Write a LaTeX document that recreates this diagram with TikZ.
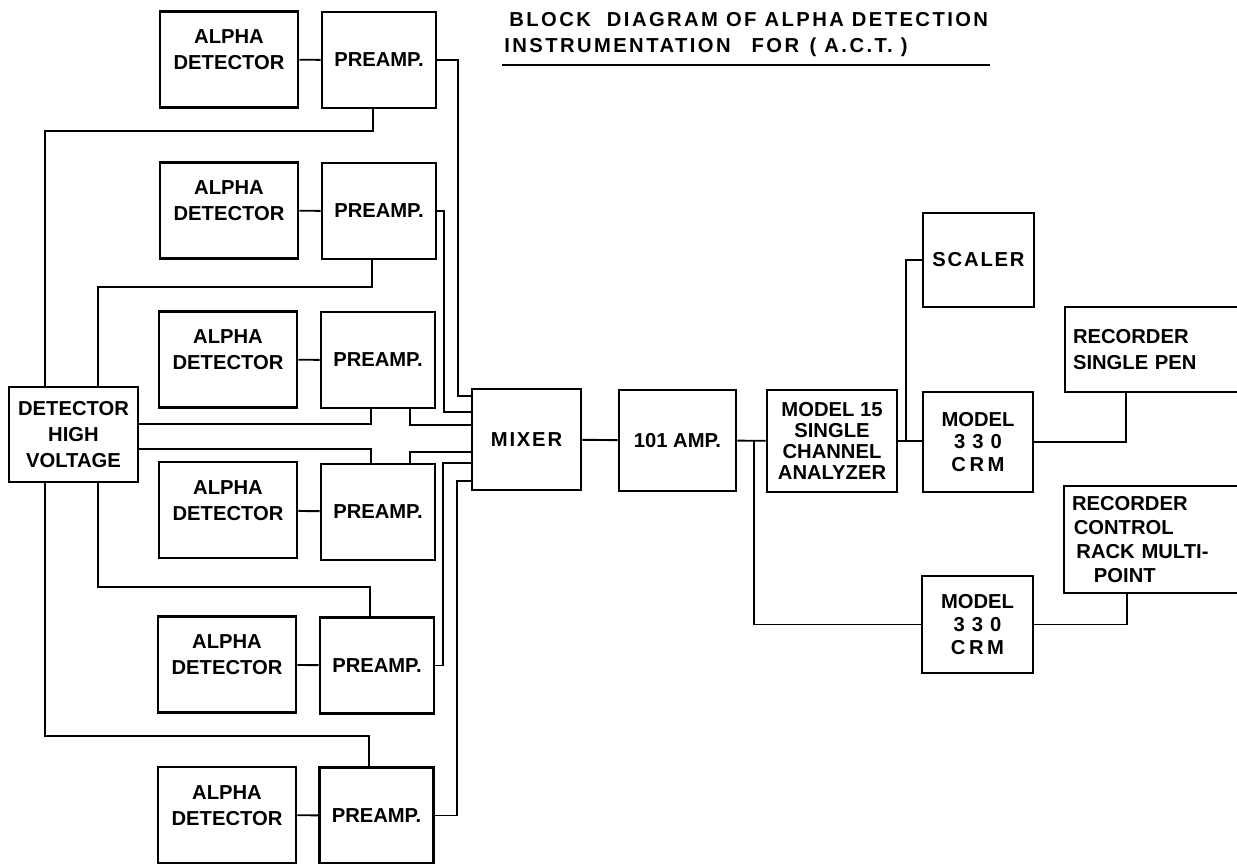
\documentclass[tikz,border=0pt]{standalone}
\usepackage{fontspec}
\setmainfont{Liberation Sans}

\begin{document}
\begin{tikzpicture}[x=0.02cm,y=-0.02cm,
  blk/.style={draw,line width=1.6pt,align=center,inner sep=1pt,
    font=\bfseries\fontsize{11.5}{14.8}\selectfont},
  det/.style={blk,minimum width=2.76cm,minimum height=1.92cm,text depth=11pt},
  pre/.style={blk,minimum width=2.28cm,minimum height=1.92cm},
  rec/.style={blk,align=left,inner xsep=0.16cm,text width=3.4cm},
  wide/.style={font=\bfseries\fontsize{11.5}{14.8}\selectfont\addfontfeature{LetterSpace=9}},
  ttl/.style={anchor=base west,inner sep=0pt,
    font=\bfseries\fontsize{11.5}{14}\selectfont\addfontfeature{LetterSpace=12}},
  wire/.style={line width=1.1pt}]
  \useasboundingbox (0,0) rectangle (1237,864);

  % title
  \node[ttl] (ttl1) at (509,27) {BLOCK\ \ DIAGRAM OF ALPHA DETECTION};
  \node[ttl] (ttl2) at (504,53) {INSTRUMENTATION\hspace{12pt}FOR\hspace{6pt}( A.C.T. )};
  \draw[line width=1.2pt] (502,65) -- (990,65);

  % detector / preamp pairs
  \node[det] (d1) at (229,59.5) {ALPHA\\DETECTOR};
  \node[pre] (p1) at (379,60) {PREAMP.};
  \node[det] (d2) at (229,210.5) {ALPHA\\DETECTOR};
  \node[pre] (p2) at (379,211) {PREAMP.};
  \node[det] (d3) at (228,359.5) {ALPHA\\DETECTOR};
  \node[pre] (p3) at (378,360) {PREAMP.};
  \node[det] (d4) at (228,510) {ALPHA\\DETECTOR};
  \node[pre] (p4) at (378,512) {PREAMP.};
  \node[det] (d5) at (227,664.5) {ALPHA\\DETECTOR};
  \node[pre] (p5) at (377,665.5) {PREAMP.};
  \node[det] (d6) at (227,815) {ALPHA\\DETECTOR};
  \node[pre] (p6) at (376.5,815.5) {PREAMP.};

  \node[blk,minimum width=2.58cm,minimum height=1.9cm] (hv) at (73.5,434.5) {DETECTOR\\HIGH\\VOLTAGE};
  \node[blk,wide,minimum width=2.18cm,minimum height=2.02cm] (mix) at (526.5,439.5) {MIXER};
  \node[blk,minimum width=2.34cm,minimum height=2.02cm] (amp) at (677.5,440.5) {101 AMP.};
  \node[blk,minimum width=2.6cm,minimum height=2.04cm,font=\bfseries\fontsize{11.5}{12}\selectfont]
    (sca) at (832,441) {MODEL 15\\SINGLE\\CHANNEL\\ANALYZER};
  \node[blk,wide,minimum width=2.22cm,minimum height=1.88cm] (scl) at (978.5,260) {SCALER};
  \node[blk,minimum width=2.2cm,minimum height=2cm,font=\bfseries\fontsize{11.5}{13}\selectfont]
    (crm1) at (978,442) {MODEL\\3\kern4pt3\kern4pt0\\C\kern2ptR\kern2ptM};
  \node[blk,minimum width=2.22cm,minimum height=1.94cm,font=\bfseries\fontsize{11.5}{13}\selectfont]
    (crm2) at (977.5,624.5) {MODEL\\3\kern4pt3\kern4pt0\\C\kern2ptR\kern2ptM};
  \node[rec,minimum height=1.7cm] (rec1) at (1158,349.5) {RECORDER\\SINGLE PEN};
  \node[rec,minimum height=2.14cm,font=\bfseries\fontsize{11.5}{13.5}\selectfont]
    (rec2) at (1157,539.5) {RECORDER\\\hspace*{1pt}CONTROL\\\hspace*{2.5pt}RACK MULTI-\\\hspace*{12.5pt}POINT};

  % detector to preamp
  \draw[wire] (d1) -- (p1);
  \draw[wire] (d2) -- (p2);
  \draw[wire] (d3) -- (p3);
  \draw[wire] (d4) -- (p4);
  \draw[wire] (d5) -- (p5);
  \draw[wire] (d6) -- (p6);

  % high voltage feed
  \draw[wire] (hv.north -| 45,0) -- (45,131) -| (p1.south -| 373,0);
  \draw[wire] (hv.north -| 98,0) -- (98,287) -| (p2.south -| 372,0);
  \draw[wire] (hv.east |- 0,424) -| (p3.south -| 371,0);
  \draw[wire] (hv.east |- 0,449) -| (p4.north -| 371,0);
  \draw[wire] (hv.south -| 98,0) -- (98,587) -| (p5.north -| 370,0);
  \draw[wire] (hv.south -| 45,0) -- (45,736) -| (p6.north -| 369,0);

  % preamps into mixer
  \draw[wire] (p1.east) -| (458,396) -- (mix.west |- 0,396);
  \draw[wire] (p2.east) -| (444,412) -- (mix.west |- 0,412);
  \draw[wire] (p3.south -| 410,0) |- (mix.west |- 0,425);
  \draw[wire] (p4.north -| 410,0) |- (mix.west |- 0,452);
  \draw[wire] (p5.east) -| (443,463) -- (mix.west |- 0,463);
  \draw[wire] (p6.east) -| (457,481) -- (mix.west |- 0,481);

  % signal chain
  \draw[wire] (mix) -- (amp);
  \draw[wire] (amp) -- (sca);
  \coordinate (j1) at (754,440.5);
  \draw[wire] (j1) |- (crm2.west);
  \draw[wire] (sca.east) -- (crm1.west |- sca.east);
  \coordinate (j2) at (906,441);
  \draw[wire] (j2) |- (scl.west);
  \draw[wire] (crm1.east) -| (rec1.south -| 1126,0);
  \draw[wire] (crm2.east) -| (rec2.south -| 1127,0);
\end{tikzpicture}
\end{document}
